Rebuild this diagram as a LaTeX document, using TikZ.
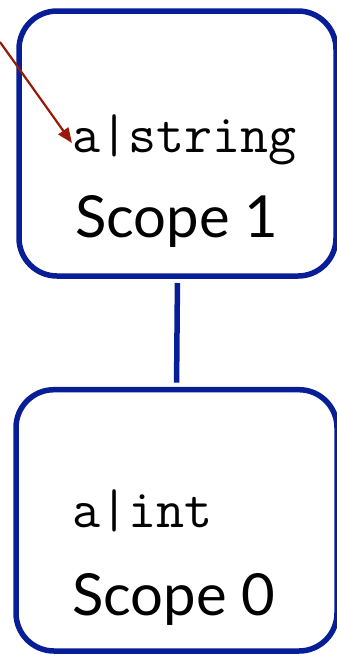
\documentclass[tikz,border=0pt]{standalone}
\usepackage{fontspec}
\newfontfamily\labelfont{Lato}
\usetikzlibrary{arrows.meta}
\definecolor{scopeblue}{RGB}{8,30,150}
\definecolor{linkred}{RGB}{150,25,10}
\begin{document}
\begin{tikzpicture}[x=1pt,y=-1pt,
  scopebox/.style={draw=scopeblue, line width=5.5pt, rounded corners=38pt,
    outer sep=0pt, inner sep=0pt},
  binding/.style={inner sep=0pt, anchor=base west,
    font=\fontsize{54.5}{54.5}\selectfont\ttfamily},
  scopename/.style={inner sep=0pt, anchor=base west,
    font=\fontsize{58}{58}\selectfont\labelfont},
  link/.style={draw=scopeblue, line width=5.5pt, shorten <=7pt, shorten >=7pt},
  pointer/.style={draw=linkred, line width=2.2pt,
    -{Triangle[length=15pt,width=12pt]}}]
\useasboundingbox (0,0) rectangle (337,654);
\clip (0,0) rectangle (337,654);

% the two scopes
\node[scopebox, minimum width=317pt, minimum height=265pt] (s1) at (177.5,143.5) {};
\node[scopebox, minimum width=321pt, minimum height=261.3pt] (s0) at (176.5,520.35) {};

% bindings and scope names
\node[binding] (b1) at (72,152) {a|string};
\node[scopename] (n1) at (75,237) {Scope 1};
\node[binding] (b0) at (72,527) {a|int};
\node[scopename] (n0) at (72,615) {Scope 0};

% parent link
\draw[link] (s1.south) -- (s0.north);

% reference pointing at the binding
\coordinate (ref) at (0,42);
\draw[pointer] (ref) -- ([yshift=9pt]b1.base west);
\end{tikzpicture}
\end{document}
